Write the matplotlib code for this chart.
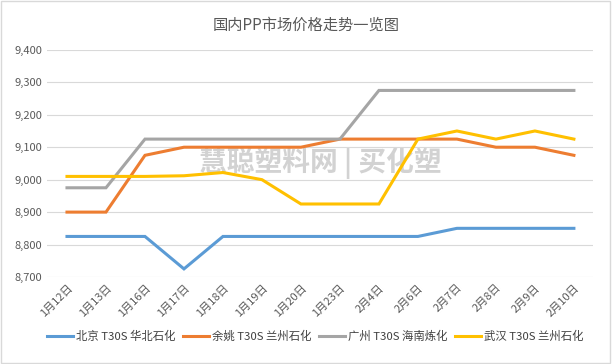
import matplotlib
matplotlib.use("Agg")
import matplotlib.pyplot as plt
from matplotlib.ticker import FuncFormatter

plt.rcParams['font.family'] = ['Noto Sans CJK SC', 'DejaVu Sans']

dates = ["1月12日", "1月13日", "1月16日", "1月17日", "1月18日", "1月19日", "1月20日",
         "1月23日", "2月4日", "2月6日", "2月7日", "2月8日", "2月9日", "2月10日"]
beijing = [8825, 8825, 8825, 8725, 8825, 8825, 8825, 8825, 8825, 8825, 8850, 8850, 8850, 8850]
yuyao = [8900, 8900, 9075, 9100, 9100, 9100, 9100, 9125, 9125, 9125, 9125, 9100, 9100, 9075]
guangzhou = [8975, 8975, 9125, 9125, 9125, 9125, 9125, 9125, 9275, 9275, 9275, 9275, 9275, 9275]
wuhan = [9010, 9010, 9010, 9012, 9022, 9000, 8925, 8925, 8925, 9125, 9150, 9125, 9150, 9125]

series_names = ["北京 T30S 华北石化", "余姚 T30S 兰州石化", "广州 T30S 海南炼化", "武汉 T30S 兰州石化"]
colors = ["#5B9BD5", "#ED7D31", "#A5A5A5", "#FFC000"]

fig = plt.figure(figsize=(6.12, 3.64), dpi=100)
ax = fig.add_axes([0.0776, 0.239, 0.892, 0.624])

x = range(len(dates))
for vals, name, c in zip([beijing, yuyao, guangzhou, wuhan], series_names, colors):
    ax.plot(x, vals, color=c, linewidth=2.2, label=name, solid_joinstyle="miter")

ax.set_xlim(-0.5, len(dates) - 0.5)
ax.set_ylim(8700, 9400)
ax.set_yticks(range(8700, 9401, 100))
ax.yaxis.set_major_formatter(FuncFormatter(lambda v, p: f"{int(v):,}"))
ax.set_xticks(list(x))
ax.set_xticklabels(dates, rotation=45, ha="right", rotation_mode="anchor")
ax.tick_params(axis="both", length=0, labelsize=8, colors="#595959", pad=4)
ax.grid(axis="y", color="#D9D9D9", linewidth=0.8)
ax.set_axisbelow(True)
for s in ax.spines.values():
    s.set_visible(False)

# faint watermark
ax.text(0.5, 0.5, "慧聪塑料网 | 买化塑", transform=ax.transAxes, ha="center", va="center",
        fontsize=20, color="#808080", alpha=0.35, fontweight="bold", zorder=0)

fig.suptitle("国内PP市场价格走势一览图", y=0.955, fontsize=11, color="#595959")
fig.legend(loc="center", bbox_to_anchor=(0.515, 0.075), ncol=4, frameon=False,
           fontsize=8.2, handlelength=2.3, handletextpad=0.3, columnspacing=0.6,
           labelcolor="#404040")

fig.patches.append(plt.Rectangle((0.002, 0.003), 0.995, 0.993, transform=fig.transFigure,
                                 fill=False, edgecolor="#D9D9D9", linewidth=1))

fig.savefig("out.png", dpi=100)
